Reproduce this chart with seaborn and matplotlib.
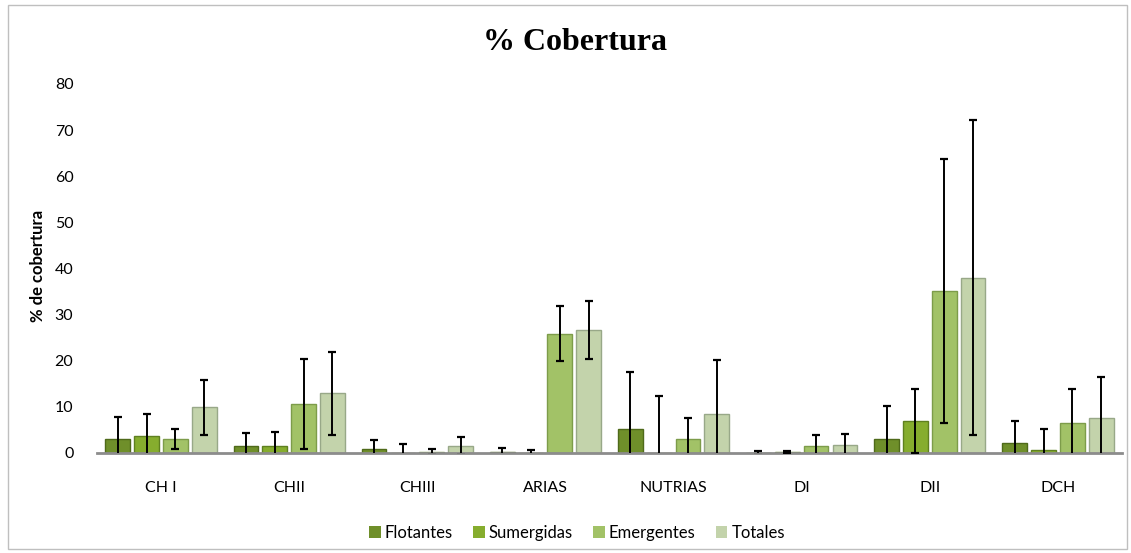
import numpy as np
import pandas as pd
import matplotlib
matplotlib.use("Agg")
import matplotlib.pyplot as plt
from matplotlib.patches import Rectangle
import seaborn as sns

# Datos
sitios = ["CH I", "CHII", "CHIII", "ARIAS", "NUTRIAS", "DI", "DII", "DCH"]
tipos = ["Flotantes", "Sumergidas", "Emergentes", "Totales"]

flotantes = [3.0, 1.5, 0.8, 0.2, 5.1, 0.0, 3.0, 2.1]
sumergidas = [3.7, 1.5, 0.05, 0.05, 0.0, 0.2, 6.9, 0.6]
emergentes = [3.0, 10.6, 0.2, 25.9, 3.0, 1.5, 35.1, 6.4]
totales = [9.9, 12.9, 1.5, 26.6, 8.4, 1.7, 38.0, 7.6]

sd_flotantes = [4.7, 2.8, 2.0, 0.8, 12.5, 0.5, 7.2, 4.8]
sd_sumergidas = [4.7, 3.0, 2.0, 0.7, 12.4, 0.2, 6.9, 4.7]
sd_emergentes = [2.2, 9.8, 0.6, 5.9, 4.5, 2.4, 28.6, 7.4]
sd_totales = [6.0, 9.1, 1.9, 6.3, 11.7, 2.5, 34.2, 8.8]

valores = [flotantes, sumergidas, emergentes, totales]
errores = [sd_flotantes, sd_sumergidas, sd_emergentes, sd_totales]

colores = ["#6f8f2a", "#86ad2e", "#a2c267", "#c3d3ab"]
bordes = ["#4f6a1a", "#5f8020", "#7d9c4a", "#98a888"]

df = pd.DataFrame({
    "sitio": np.tile(sitios, len(tipos)),
    "tipo": np.repeat(tipos, len(sitios)),
    "valor": np.concatenate(valores),
})

W, H = 1131, 553
fig = plt.figure(figsize=(W / 100, H / 100), dpi=100)
ax = fig.add_axes([97 / W, 100 / H, 1025 / W, 369 / H])

sns.barplot(data=df, x="sitio", y="valor", hue="tipo", order=sitios, hue_order=tipos,
            palette=colores, width=0.9, gap=0.14, errorbar=None, saturation=1,
            ax=ax, legend=True)

# bordes y barras de error
for cont, borde, err in zip(ax.containers, bordes, errores):
    xs, ys = [], []
    for bar in cont:
        bar.set_edgecolor(borde)
        bar.set_linewidth(1.0)
        xs.append(bar.get_x() + bar.get_width() / 2)
        ys.append(bar.get_height())
    ax.errorbar(xs, ys, yerr=err, fmt="none", ecolor="black", elinewidth=1.4,
                capsize=3, capthick=1.6, zorder=5)

ax.set_xlim(-0.5, len(sitios) - 0.5)
ax.set_ylim(0, 80)
ax.set_yticks(np.arange(0, 81, 10))
ax.set_xlabel("")
ax.set_ylabel("")
for s in ["top", "right", "left"]:
    ax.spines[s].set_visible(False)
ax.spines["bottom"].set_color("#8c8c8c")
ax.spines["bottom"].set_linewidth(2)
ax.tick_params(axis="y", length=0, pad=17, labelsize=11.5)
ax.tick_params(axis="x", length=0, pad=20, labelsize=11.5)
for t in ax.get_xticklabels() + ax.get_yticklabels():
    t.set_fontfamily("Lato")

handles, labels = ax.get_legend_handles_labels()
ax.legend(handles, labels, loc="center", bbox_to_anchor=(577 / W, 1 - 533 / H),
          bbox_transform=fig.transFigure, ncol=4, frameon=False,
          handlelength=0.7, handleheight=0.7, handletextpad=0.25,
          columnspacing=1.2, prop={"family": "Lato", "size": 12})

fig.text(575 / W, 1 - 43 / H, "% Cobertura", ha="center", va="center",
         fontsize=23, fontweight="bold", family="Liberation Serif")
fig.text(38 / W, 1 - 266 / H, "% de cobertura", ha="center", va="center",
         rotation=90, fontsize=12, fontweight="bold", family="Lato")

fig.patches.append(Rectangle((8 / W, 4 / H), 1119 / W, 544 / H,
                             transform=fig.transFigure, fill=False,
                             edgecolor="#bfbfbf", linewidth=1))

fig.savefig("out.png", dpi=100)
